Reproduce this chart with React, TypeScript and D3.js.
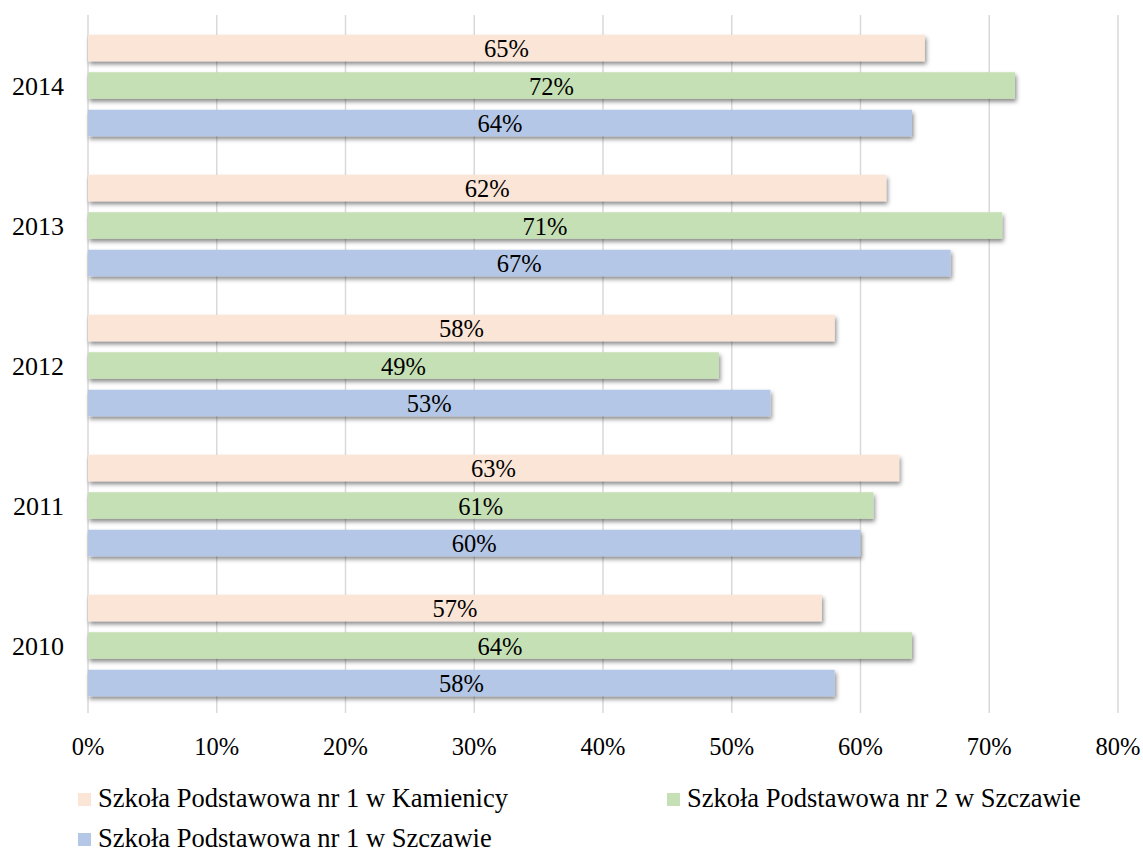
import React from "react";
import * as d3 from "d3";

const years = ["2014", "2013", "2012", "2011", "2010"];
const seriesNames = [
  "Szkoła Podstawowa nr 1 w Kamienicy",
  "Szkoła Podstawowa nr 2 w Szczawie",
  "Szkoła Podstawowa nr 1 w Szczawie",
];
const kamienica = [65, 62, 58, 63, 57];
const szczawa2 = [72, 71, 49, 61, 64];
const szczawa1 = [64, 67, 53, 60, 58];
const seriesValues = [kamienica, szczawa2, szczawa1];
const colors = ["#FBE5D6", "#C5E0B4", "#B4C7E7"];
const xTicks = [0, 10, 20, 30, 40, 50, 60, 70, 80];

const W = 1143;
const H = 852;
const FONT = '"Liberation Serif", "DejaVu Serif", serif';

export default function App() {
  const x = d3.scaleLinear().domain([0, 80]).range([88, 1118]);
  const y = d3.scaleBand().domain(years).range([15.5, 715.5]).paddingInner(0).paddingOuter(0);
  const inner = d3
    .scaleBand()
    .domain(seriesNames)
    .range([19.25, y.bandwidth() - 19.25])
    .paddingInner(0.293)
    .paddingOuter(0);

  const legendItems = [
    { name: seriesNames[0], color: colors[0], x: 78, y: 793 },
    { name: seriesNames[1], color: colors[1], x: 667, y: 793 },
    { name: seriesNames[2], color: colors[2], x: 78, y: 833 },
  ];

  return (
    <svg
      width={W}
      height={H}
      style={{ position: "absolute", left: 0, top: 0, background: "#fff", fontFamily: FONT }}
    >
      <defs>
        <filter id="shadow" x="-5%" y="-30%" width="110%" height="180%">
          <feDropShadow dx="1.5" dy="3" stdDeviation="2" floodColor="#000" floodOpacity="0.45" />
        </filter>
      </defs>
      <rect width={W} height={H} fill="#fff" />
      {xTicks.map((t) => (
        <line
          key={"g" + t}
          x1={x(t)}
          x2={x(t)}
          y1={15}
          y2={713}
          stroke="#D9D9D9"
          strokeWidth={1.5}
        />
      ))}
      {xTicks.map((t) => (
        <text key={"t" + t} x={x(t)} y={755} textAnchor="middle" fontSize={24.5} fill="#000">
          {t + "%"}
        </text>
      ))}
      {years.map((yr, i) => (
        <g key={yr} transform={`translate(0,${y(yr)})`}>
          <text
            x={64}
            y={y.bandwidth() / 2}
            dy="0.36em"
            textAnchor="end"
            fontSize={26}
            fill="#000"
          >
            {yr}
          </text>
          {seriesNames.map((s, j) => {
            const v = seriesValues[j][i];
            const by = inner(s) as number;
            return (
              <g key={s}>
                <rect
                  x={x(0)}
                  y={by}
                  width={x(v) - x(0)}
                  height={inner.bandwidth()}
                  fill={colors[j]}
                  filter="url(#shadow)"
                />
                <text
                  x={(x(0) + x(v)) / 2}
                  y={by + inner.bandwidth() / 2}
                  dy="0.38em"
                  textAnchor="middle"
                  fontSize={24.5}
                  fill="#000"
                >
                  {v + "%"}
                </text>
              </g>
            );
          })}
        </g>
      ))}
      {legendItems.map((l) => (
        <g key={l.name}>
          <rect x={l.x} y={l.y} width={13} height={13} fill={l.color} />
          <text x={l.x + 20} y={l.y + 13.5} fontSize={26.5} fill="#000">
            {l.name}
          </text>
        </g>
      ))}
    </svg>
  );
}
